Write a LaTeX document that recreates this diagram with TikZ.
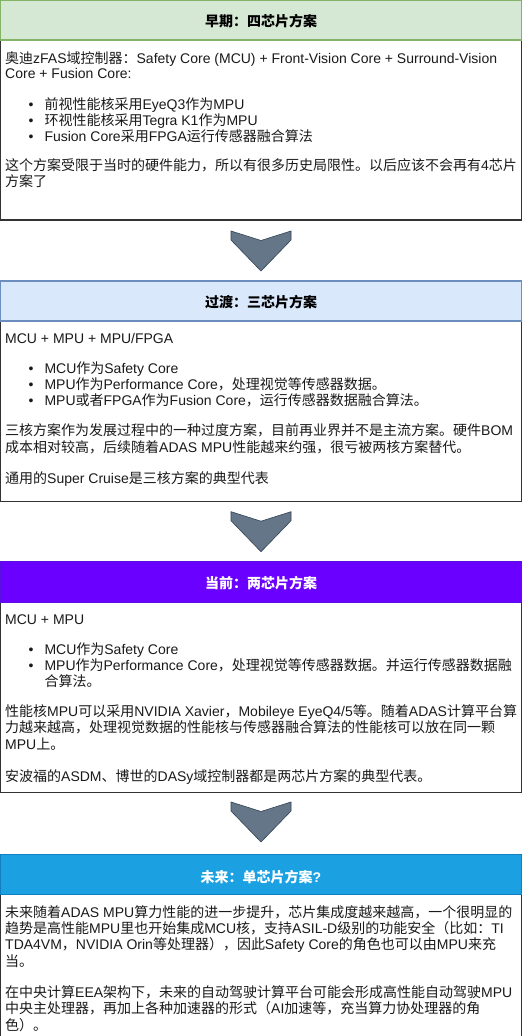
\documentclass[tikz,border=0pt]{standalone}
\usepackage{fontspec}
\setmainfont{Liberation Sans}
\newfontfamily\latinfont{Liberation Sans}
\newfontfamily\cjkfont{Noto Sans CJK SC}
\XeTeXinterchartokenstate=1
\newXeTeXintercharclass\cjkclass
\newcount\cjkc
\def\cjkrange#1#2{\cjkc=#1\relax\loop\XeTeXcharclass\cjkc=\cjkclass\advance\cjkc by 1\relax\ifnum\cjkc<#2\relax\repeat}
\cjkrange{"3000}{"3040}
\cjkrange{"4E00}{"A000}
\cjkrange{"FF00}{"FFF0}
\XeTeXinterchartoks 0 \cjkclass = {\cjkfont}
\XeTeXinterchartoks 4095 \cjkclass = {\cjkfont}
\XeTeXinterchartoks \cjkclass 0 = {\latinfont}
\XeTeXinterchartoks \cjkclass 4095 = {\latinfont}
\definecolor{g1}{HTML}{D5E8D4}\definecolor{g1d}{HTML}{82B366}
\definecolor{b2}{HTML}{DAE8FC}\definecolor{b2d}{HTML}{6C8EBF}
\definecolor{v3}{HTML}{6A00FF}\definecolor{v3d}{HTML}{5A10E0}
\definecolor{c4}{HTML}{1BA1E2}\definecolor{c4d}{HTML}{1080C0}
\definecolor{bodyc}{HTML}{333333}
\definecolor{chevf}{HTML}{647687}\definecolor{chevd}{HTML}{314354}
\definecolor{txtc}{HTML}{1A1A1A}
\begin{document}
\begin{tikzpicture}[x=1pt,y=-1pt,
  txt/.style={anchor=base west,inner sep=0pt,font=\fontsize{14}{16}\selectfont,text=txtc},
  hd/.style={anchor=base,inner sep=0pt,font=\fontsize{14}{16}\selectfont\bfseries},
  bodybox/.style={draw=bodyc,line width=1.2pt,fill=white},
  hdrbox/.style={line width=1.2pt},
  chev/.style={fill=chevf,draw=chevd,line width=0.6pt,line join=miter}]
\useasboundingbox (0,0) rectangle (522,1036);
\fill[white] (0,0) rectangle (522,1036);
% ---------- box 1
\draw[bodybox] (0.6,40) rectangle (521.4,220);
\draw[hdrbox,fill=g1,draw=g1d] (0.6,0.6) rectangle (521.4,40);
\node[hd,text=black] (h1) at (261,27) {早期：四芯片方案};
\node[txt] (t1a) at (5,63) {奥迪zFAS域控制器：Safety Core (MCU) + Front-Vision Core + Surround-Vision};
\node[txt] (t1b) at (5,78.8) {Core + Fusion Core:};
\node[txt] (d1a) at (28.5,109) {•};
\node[txt] (t1c) at (44.3,109) {前视性能核采用EyeQ3作为MPU};
\node[txt] (d1b) at (28.5,125) {•};
\node[txt] (t1d) at (44.3,125) {环视性能核采用Tegra K1作为MPU};
\node[txt] (d1c) at (28.5,141) {•};
\node[txt] (t1e) at (44.3,141) {Fusion Core采用FPGA运行传感器融合算法};
\node[txt] (t1f) at (5,170.3) {这个方案受限于当时的硬件能力，所以有很多历史局限性。以后应该不会再有4芯片};
\node[txt] (t1g) at (5,186.6) {方案了};
% arrow 1
\draw[chev] (231,231) -- ++(30,9.5) -- ++(30,-9.5) -- ++(0,9) -- ++(-30,31) -- ++(-30,-31) -- cycle;
% ---------- box 2
\draw[bodybox] (0.6,321) rectangle (521.4,501.7);
\draw[hdrbox,fill=b2,draw=b2d] (0.6,281) rectangle (521.4,321);
\node[hd,text=black] (h2) at (261,307) {过渡：三芯片方案};
\node[txt] (t2a) at (5,343.5) {MCU + MPU + MPU/FPGA};
\node[txt] (d2a) at (28.5,373.5) {•};
\node[txt] (t2b) at (44.3,373.5) {MCU作为Safety Core};
\node[txt] (d2b) at (28.5,389.5) {•};
\node[txt] (t2c) at (44.3,389.5) {MPU作为Performance Core，处理视觉等传感器数据。};
\node[txt] (d2c) at (28.5,405.5) {•};
\node[txt] (t2d) at (44.3,405.5) {MPU或者FPGA作为Fusion Core，运行传感器数据融合算法。};
\node[txt] (t2e) at (5,435.5) {三核方案作为发展过程中的一种过度方案，目前再业界并不是主流方案。硬件BOM};
\node[txt] (t2f) at (5,452) {成本相对较高，后续随着ADAS MPU性能越来约强，很亏被两核方案替代。};
\node[txt] (t2g) at (5,483.5) {通用的Super Cruise是三核方案的典型代表};
% arrow 2
\draw[chev] (231,511.7) -- ++(30,9.5) -- ++(30,-9.5) -- ++(0,9) -- ++(-30,31) -- ++(-30,-31) -- cycle;
% ---------- box 3
\draw[bodybox] (0.6,602.3) rectangle (521.4,792.3);
\draw[hdrbox,fill=v3,draw=v3d] (0.6,561.7) rectangle (521.4,602.3);
\node[hd,text=white] (h3) at (261,588.2) {当前：两芯片方案};
\node[txt] (t3a) at (5,624.2) {MCU + MPU};
\node[txt] (d3a) at (28.5,654.2) {•};
\node[txt] (t3b) at (44.3,654.2) {MCU作为Safety Core};
\node[txt] (d3b) at (28.5,670.2) {•};
\node[txt] (t3c) at (44.3,670.2) {MPU作为Performance Core，处理视觉等传感器数据。并运行传感器数据融};
\node[txt] (t3d) at (44.3,686.5) {合算法。};
\node[txt] (t3e) at (5,716.2) {性能核MPU可以采用NVIDIA Xavier，Mobileye EyeQ4/5等。随着ADAS计算平台算};
\node[txt] (t3f) at (5,732.6) {力越来越高，处理视觉数据的性能核与传感器融合算法的性能核可以放在同一颗};
\node[txt] (t3g) at (5,749) {MPU上。};
\node[txt] (t3h) at (5,781) {安波福的ASDM、博世的DASy域控制器都是两芯片方案的典型代表。};
% arrow 3
\draw[chev] (231,802) -- ++(30,9.5) -- ++(30,-9.5) -- ++(0,9) -- ++(-30,31) -- ++(-30,-31) -- cycle;
% ---------- box 4
\draw[bodybox] (0.6,894.3) rectangle (521.4,1045);
\draw[hdrbox,fill=c4,draw=c4d] (0.6,854.3) rectangle (521.4,894.3);
\node[hd,text=white] (h4) at (261,882.2) {未来：单芯片方案?};
\node[txt] (t4a) at (5,917.5) {未来随着ADAS MPU算力性能的进一步提升，芯片集成度越来越高，一个很明显的};
\node[txt] (t4b) at (5,933.5) {趋势是高性能MPU里也开始集成MCU核，支持ASIL-D级别的功能安全（比如：TI};
\node[txt] (t4c) at (5,949.5) {TDA4VM，NVIDIA Orin等处理器），因此Safety Core的角色也可以由MPU来充};
\node[txt] (t4d) at (5,966) {当。};
\node[txt] (t4e) at (5,997) {在中央计算EEA架构下，未来的自动驾驶计算平台可能会形成高性能自动驾驶MPU};
\node[txt] (t4f) at (5,1013.5) {中央主处理器，再加上各种加速器的形式（AI加速等，充当算力协处理器的角};
\node[txt] (t4g) at (5,1030) {色）。};
\end{tikzpicture}
\end{document}
